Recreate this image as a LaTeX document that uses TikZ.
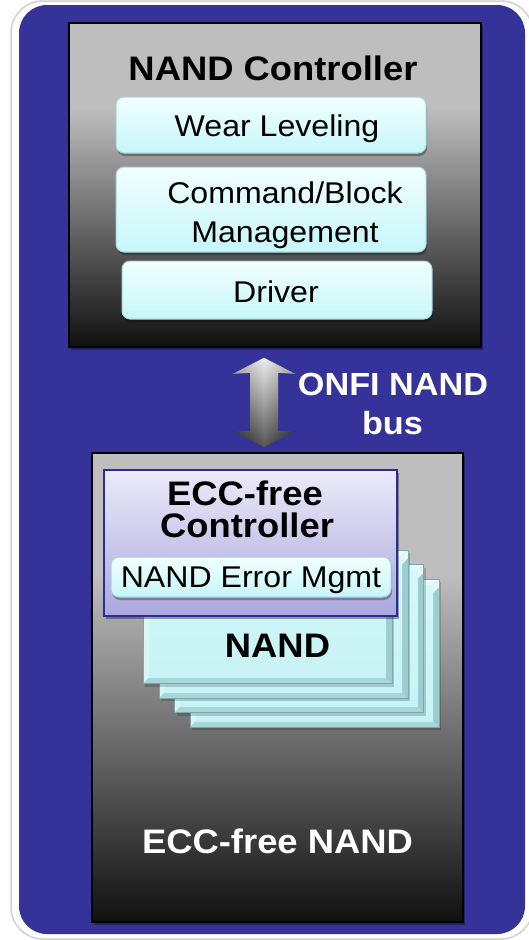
\documentclass[tikz,border=0pt]{standalone}
\usepackage{fontspec}
\setmainfont{Liberation Sans}[FakeStretch=1.07]
\usetikzlibrary{calc}

\definecolor{panelblue}{HTML}{353399}
\definecolor{boxlight}{HTML}{BEBEBE}
\definecolor{boxdark}{HTML}{101010}
\definecolor{cyantop}{HTML}{F2FFFF}
\definecolor{cyanbot}{HTML}{C6F6F9}
\definecolor{cyanedge}{HTML}{A6D6DA}
\definecolor{lavtop}{HTML}{ECEAF9}
\definecolor{lavbot}{HTML}{A9A7DD}
\definecolor{lavedge}{HTML}{2B2B99}
\definecolor{chipface}{HTML}{C8F3F5}
\definecolor{chipfacetop}{HTML}{D2F8FA}
\definecolor{chiplight}{HTML}{E4FEFE}
\definecolor{chipside}{HTML}{B4E6E9}
\definecolor{chipdark}{HTML}{9CCDD1}
\definecolor{chipline}{HTML}{7FA6AA}

% grey box: light in the upper part, fading to near black at the bottom
\pgfdeclareverticalshading{greybox}{100bp}{%
  color(0bp)=(boxdark); color(25bp)=(boxdark);
  color(62bp)=(boxlight); color(100bp)=(boxlight)}

\tikzset{
  softshadow/.style={preaction={fill=black,opacity=0.35,
      transform canvas={xshift=2pt,yshift=-3pt}}},
  greyframe/.style={draw=black, line width=1.6, shading=greybox,
      inner sep=0pt, softshadow},
  cyanbox/.style={draw=cyanedge, line width=1, rounded corners=8,
      top color=cyantop, bottom color=cyanbot, inner sep=0pt,
      preaction={fill=black,opacity=0.3,
      transform canvas={xshift=1pt,yshift=-3pt}}},
  lavbox/.style={draw=lavedge, line width=1.4, top color=lavtop,
      bottom color=lavbot, inner sep=0pt, softshadow},
  plainlabel/.style={font=\fontsize{30}{39}\selectfont, anchor=base,
      inner sep=0pt},
  boldlabel/.style={font=\fontsize{34}{30}\selectfont\bfseries,
      anchor=base, inner sep=0pt},
  nandchip/.pic={
    \fill[black,opacity=0.18] (2,3) rectangle (251,151);
    \fill[chipside] (0,0) rectangle (249,148);
    \fill[chiplight] (0,0) -- (249,0) -- (243,6) -- (6,6) -- cycle;
    \fill[chiplight!70!chipside] (0,0) -- (6,6) -- (6,142) -- (0,148) -- cycle;
    \fill[chipdark] (249,0) -- (249,148) -- (243,142) -- (243,6) -- cycle;
    \fill[chipdark!60!chipside] (0,148) -- (249,148) -- (243,142) -- (6,142) -- cycle;
    \fill[white,opacity=0.8] (249,0) -- (243,6) -- (243,14) -- (249,8) -- cycle;
    \shade[top color=chipfacetop, bottom color=chipface] (6,6) rectangle (243,142);
    \draw[chipline, line width=0.8] (0,0) rectangle (249,148);
  }
}

\begin{document}
\begin{tikzpicture}[x=1pt,y=-1pt]
\useasboundingbox (0,0) rectangle (529,940);
\fill[white] (0,0) rectangle (529,940);

% outer white frame and blue panel
\draw[draw=black!18, line width=1.5, fill=white, rounded corners=32]
  (11,1) rectangle (533,939);
\fill[panelblue, rounded corners=28] (19,5) rectangle (525,934);

% NAND controller block
\node[greyframe, minimum width=412pt, minimum height=324pt]
  (ctrl) at (275,185) {};
\node[boldlabel] (ctrltitle) at (273,80) {NAND Controller};

\node[cyanbox, minimum width=310pt, minimum height=56pt]
  (wear) at (271,125) {};
\node[plainlabel] (weartxt) at (277,136) {Wear Leveling};

\node[cyanbox, minimum width=310pt, minimum height=85pt]
  (cmd) at (271,209.5) {};
% base anchor of a two-line node sits on the last line
\node[plainlabel, align=center] (cmdtxt) at (285,242) {Command/Block\\Management};

\node[cyanbox, minimum width=310pt, minimum height=58pt]
  (drv) at (277,290) {};
\node[plainlabel] (drvtxt) at (276,302) {Driver};

% ECC-free NAND block
\node[greyframe, minimum width=371pt, minimum height=469pt]
  (nand) at (277.5,687.5) {};

% stack of NAND dies, back to front
\pic (die4) at (190,579) {nandchip};
\pic (die3) at (174.5,564.5) {nandchip};
\pic (die2) at (159,550) {nandchip};
\pic (die1) at (143,535.5) {nandchip};
\node[boldlabel] (dietxt) at (277.5,657) {NAND};

% on-die controller
\node[lavbox, minimum width=293pt, minimum height=146pt]
  (ecc) at (250.5,543) {};
\node[boldlabel] (ecctxt1) at (245,505) {ECC-free};
\node[boldlabel] (ecctxt2) at (247,537) {Controller};

\node[cyanbox, minimum width=280pt, minimum height=40pt]
  (errm) at (251,577) {};
\node[plainlabel] (errtxt) at (251,587) {NAND Error Mgmt};

\node[boldlabel, text=white] (nandtxt) at (277.5,853) {ECC-free NAND};

% ONFI bus: double-headed arrow between the two blocks
\coordinate (atop) at ($(ctrl.south)+(-11,10)$);
\coordinate (abot) at ($(nand.north)+(-13.5,-5)$);
\def\arrowshape{(atop) -- ($(atop)+(31,16)$) -- ($(atop)+(14,15)$)
  -- ($(abot)+(14,-16)$) -- ($(abot)+(31,-16)$) -- (abot)
  -- ($(abot)+(-31,-16)$) -- ($(abot)+(-14,-16)$)
  -- ($(atop)+(-14,15)$) -- ($(atop)+(-31,16)$) -- cycle}
\shade[top color=white!92!black, bottom color=black!85] \arrowshape;
\shade[left color=black, right color=black, middle color=white,
  opacity=0.22] \arrowshape;

\node[boldlabel, text=white, font=\fontsize{32}{30}\selectfont\bfseries]
  (bustxt1) at (393,395) {ONFI NAND};
\node[boldlabel, text=white, font=\fontsize{32}{30}\selectfont\bfseries]
  (bustxt2) at (392.5,434) {bus};
\end{tikzpicture}
\end{document}
